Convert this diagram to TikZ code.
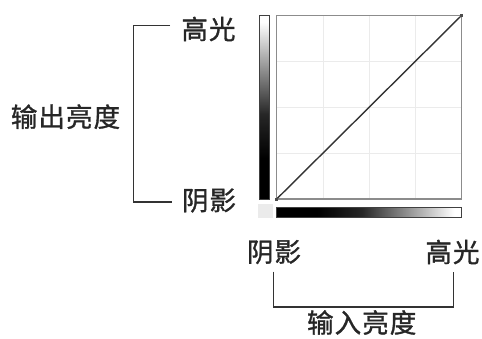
\documentclass[tikz,border=0pt]{standalone}
\usepackage{fontspec}
\newfontfamily\cjk{Noto Sans CJK SC}[LetterSpace=4,FakeBold=1.2]
\pgfdeclarehorizontalshading{hbar}{100bp}{color(0bp)=(black); color(36bp)=(black); color(48bp)=(black!85); color(73bp)=(white); color(100bp)=(white)}
\pgfdeclareverticalshading{vbar}{100bp}{color(0bp)=(black); color(36bp)=(black); color(48bp)=(black!85); color(73bp)=(white); color(100bp)=(white)}
\begin{document}
\begin{tikzpicture}[x=1pt,y=-1pt,
  lbl/.style={inner sep=0pt,font=\cjk\fontsize{26.5}{28}\selectfont,text=black!85},
  brk/.style={draw=black!80,line width=1.4pt},
  gridln/.style={draw=black!8,line width=0.9pt},
  barframe/.style={draw=black!75,line width=1pt}]
\useasboundingbox (0,0) rectangle (482,338);
% curve panel
\coordinate (bl) at (276.7,199);
\coordinate (tr) at (461.7,15.3);
\foreach \i in {1,2,3}{
  \draw[gridln] ({276.7+\i*46.25},15.3) -- ({276.7+\i*46.25},199);
  \draw[gridln] (276.7,{199-\i*45.9}) -- (461.7,{199-\i*45.9});
}
\draw[draw=black!45,line width=1.5pt] (bl) rectangle (tr);
\draw[black!80,line width=1.4pt] (bl) -- (tr);
\fill[black!70] (bl) ++(-1.5,-1.5) rectangle ++(3,3);
\fill[black!70] (tr) ++(-1.5,-1.5) rectangle ++(3,3);
% vertical gradient bar
\shade[shading=vbar] (259,15) rectangle (269.3,199);
\draw[barframe] (259,15) rectangle (269.3,199);
% horizontal gradient bar
\shade[shading=hbar] (276.7,207.3) rectangle (461.7,217.3);
\draw[barframe] (276.7,207.3) rectangle (461.7,217.3);
% corner square
\fill[black!8] (258,204) rectangle (272.7,217.5);
% labels
\node[lbl] (hiL) at (208.5,29) {高光};
\node[lbl] (shL) at (209,200.5) {阴影};
\node[lbl] (outL) at (65.5,116.7) {输出亮度};
\node[lbl] (shB) at (274,252) {阴影};
\node[lbl] (hiB) at (452.5,252) {高光};
\node[lbl] (inB) at (361.7,322.5) {输入亮度};
% brackets
\coordinate (lt) at (170,25.3);
\coordinate (lb) at (171.7,202);
\draw[brk] (lt) -- (133.3,25.3) -- (133.3,202) -- (lb);
\coordinate (bl1) at (273.3,271.7);
\coordinate (br1) at (453.3,271.7);
\draw[brk] (bl1) -- (273.3,307) -- (453.3,307) -- (br1);
\end{tikzpicture}
\end{document}
